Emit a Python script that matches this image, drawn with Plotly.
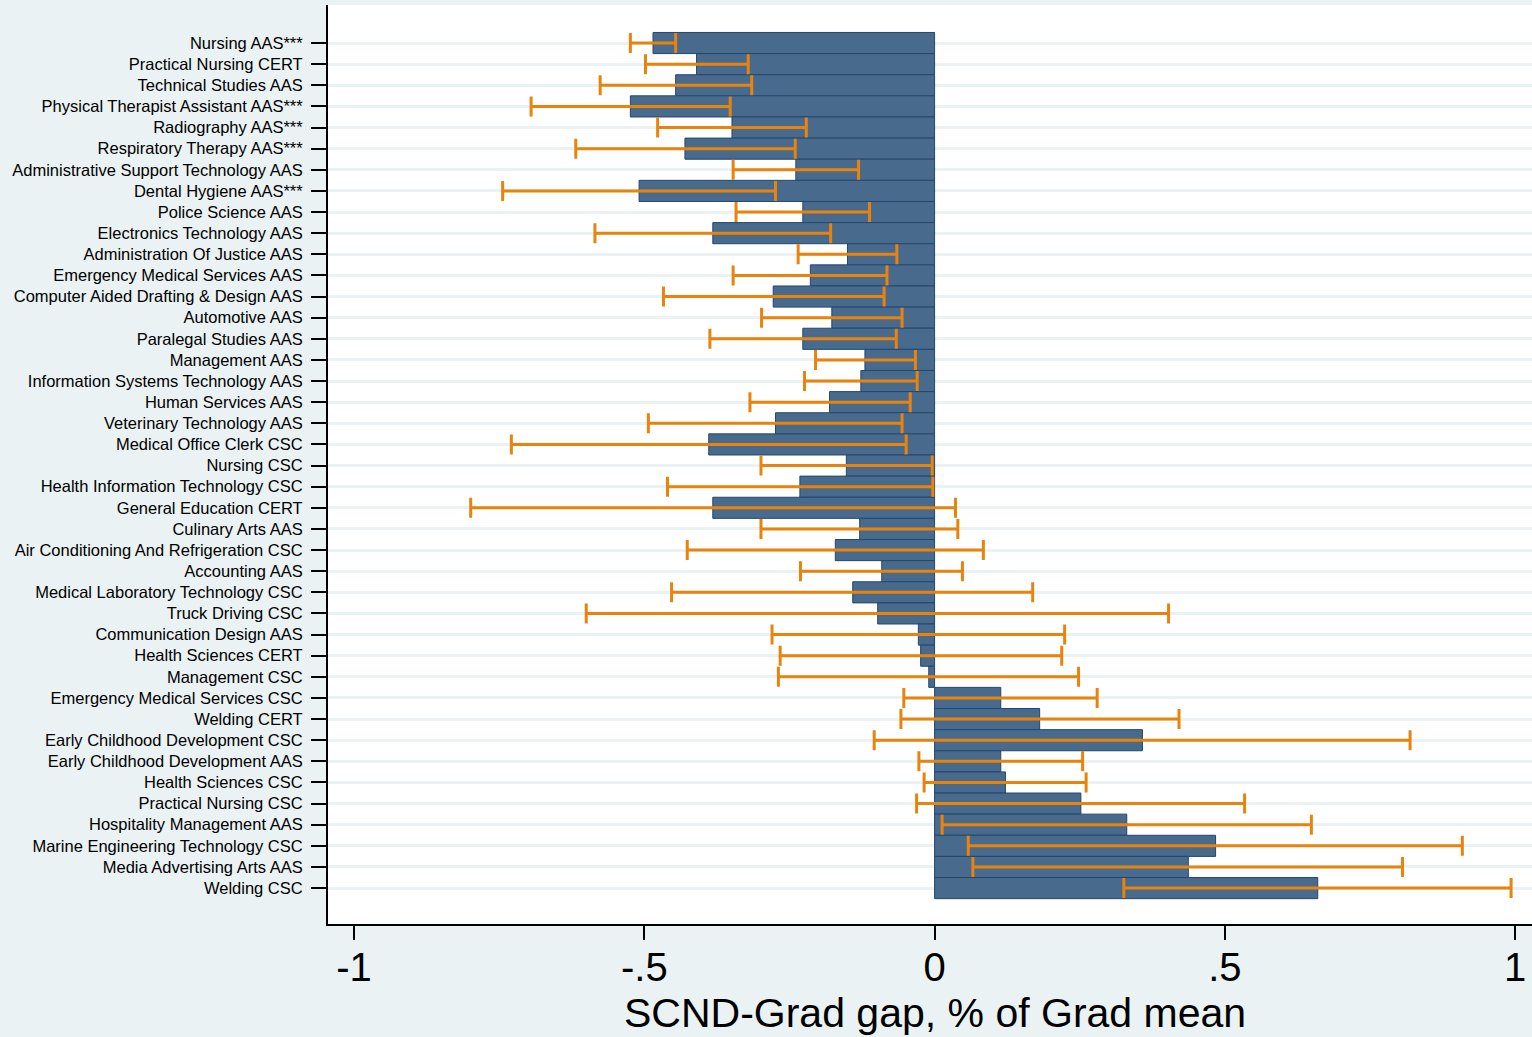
import plotly.graph_objects as go

programs = [
    "Nursing AAS***", "Practical Nursing CERT", "Technical Studies AAS",
    "Physical Therapist Assistant AAS***", "Radiography AAS***", "Respiratory Therapy AAS***",
    "Administrative Support Technology AAS", "Dental Hygiene AAS***", "Police Science AAS",
    "Electronics Technology AAS", "Administration Of Justice AAS", "Emergency Medical Services AAS",
    "Computer Aided Drafting & Design AAS", "Automotive AAS", "Paralegal Studies AAS",
    "Management AAS", "Information Systems Technology AAS", "Human Services AAS",
    "Veterinary Technology AAS", "Medical Office Clerk CSC", "Nursing CSC",
    "Health Information Technology CSC", "General Education CERT", "Culinary Arts AAS",
    "Air Conditioning And Refrigeration CSC", "Accounting AAS", "Medical Laboratory Technology CSC",
    "Truck Driving CSC", "Communication Design AAS", "Health Sciences CERT", "Management CSC",
    "Emergency Medical Services CSC", "Welding CERT", "Early Childhood Development CSC",
    "Early Childhood Development AAS", "Health Sciences CSC", "Practical Nursing CSC",
    "Hospitality Management AAS", "Marine Engineering Technology CSC", "Media Advertising Arts AAS",
    "Welding CSC",
]

gap = [
    -0.485, -0.410, -0.446, -0.524, -0.349, -0.430, -0.239, -0.509, -0.227, -0.382,
    -0.150, -0.214, -0.278, -0.177, -0.227, -0.120, -0.127, -0.181, -0.274, -0.389,
    -0.152, -0.232, -0.382, -0.129, -0.171, -0.091, -0.141, -0.098, -0.028, -0.024,
    -0.010, 0.114, 0.181, 0.358, 0.114, 0.122, 0.252, 0.331, 0.484, 0.437, 0.660,
]

ci_low = [
    -0.524, -0.498, -0.576, -0.695, -0.477, -0.618, -0.347, -0.744, -0.342, -0.585,
    -0.235, -0.347, -0.467, -0.298, -0.387, -0.205, -0.224, -0.318, -0.493, -0.729,
    -0.299, -0.460, -0.799, -0.299, -0.426, -0.231, -0.453, -0.600, -0.280, -0.266,
    -0.269, -0.053, -0.058, -0.104, -0.027, -0.018, -0.031, 0.013, 0.058, 0.066, 0.326,
]

ci_high = [
    -0.446, -0.321, -0.315, -0.352, -0.221, -0.240, -0.131, -0.274, -0.112, -0.179,
    -0.065, -0.082, -0.087, -0.056, -0.066, -0.033, -0.030, -0.042, -0.056, -0.049,
    -0.004, -0.003, 0.036, 0.040, 0.084, 0.048, 0.169, 0.403, 0.224, 0.219,
    0.248, 0.280, 0.421, 0.819, 0.255, 0.261, 0.534, 0.649, 0.909, 0.806, 0.993,
]

x_ticks = [-1, -0.5, 0, 0.5, 1]
x_tick_labels = ["-1", "-.5", "0", ".5", "1"]
x_title = "SCND-Grad gap, % of Grad mean"

idx = list(range(len(programs)))
err_plus = [h - g for h, g in zip(ci_high, gap)]
err_minus = [g - l for g, l in zip(gap, ci_low)]

BG = "#EAF2F3"
FONT = "Liberation Sans, Arial, Helvetica, sans-serif"

fig = go.Figure()
fig.add_trace(go.Bar(
    x=gap, y=idx, orientation="h", width=1,
    marker=dict(color="#486A8C", line=dict(color="#24476E", width=1)),
    showlegend=False, hoverinfo="x+y",
))
fig.add_trace(go.Scatter(
    x=gap, y=idx, mode="markers",
    marker=dict(size=1, opacity=0),
    error_x=dict(type="data", symmetric=False, array=err_plus, arrayminus=err_minus,
                 color="#E8830E", thickness=3, width=10),
    showlegend=False, hoverinfo="skip",
))

fig.add_annotation(
    text=x_title, xref="paper", yref="paper", x=0.5043, y=-0.0968,
    xanchor="center", yanchor="middle", showarrow=False,
    font=dict(family=FONT, size=41, color="black"),
)

fig.update_layout(
    width=1532, height=1037,
    margin=dict(l=328, r=0, t=5, b=113),
    paper_bgcolor=BG, plot_bgcolor="white",
    font=dict(family=FONT, color="black"),
    xaxis=dict(
        range=[-1.0448, 1.029], tickvals=x_ticks, ticktext=x_tick_labels,
        showgrid=False, zeroline=False, showline=True, linecolor="black", linewidth=2,
        ticks="outside", ticklen=14, tickwidth=1.5, tickcolor="black",
        ticklabelstandoff=-7,
        tickfont=dict(family=FONT, size=40),
    ),
    yaxis=dict(
        range=[41.70, -1.80], tickvals=idx, ticktext=programs,
        showgrid=True, gridcolor=BG, gridwidth=3, zeroline=False,
        showline=True, linecolor="black", linewidth=2,
        ticks="outside", ticklen=15, tickwidth=2, tickcolor="black",
        ticklabelstandoff=5,
        tickfont=dict(family=FONT, size=16.5),
    ),
)

fig.write_html("out.html")
